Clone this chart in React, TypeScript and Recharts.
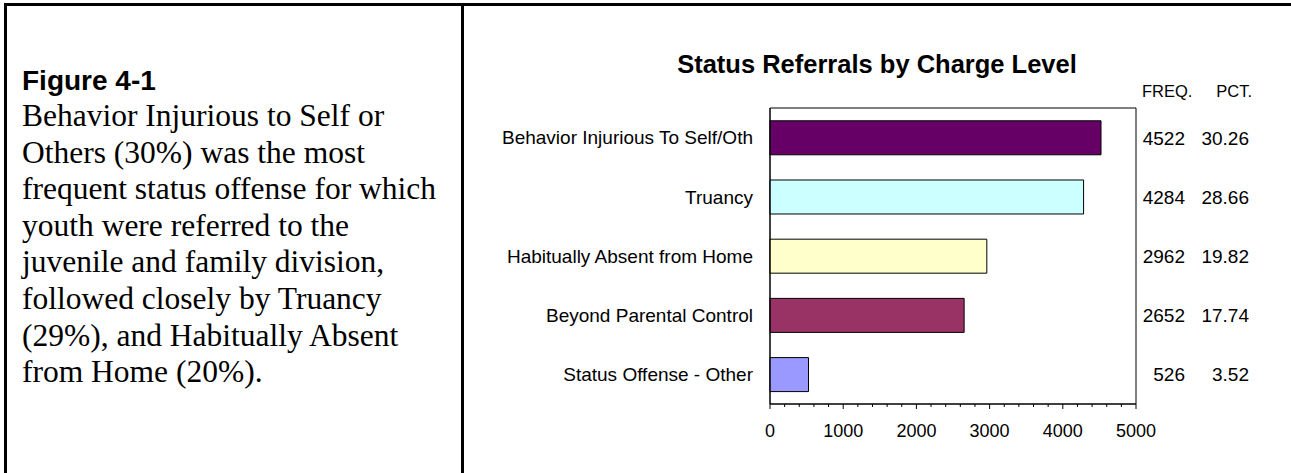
import { BarChart, Bar, XAxis, YAxis, Cell, LabelList, ReferenceArea } from 'recharts';

const CATEGORIES = [
  'Behavior Injurious To Self/Oth',
  'Truancy',
  'Habitually Absent from Home',
  'Beyond Parental Control',
  'Status Offense - Other',
];
const FREQ = [4522, 4284, 2962, 2652, 526];
const PCT = [30.26, 28.66, 19.82, 17.74, 3.52];
const BAR_COLORS = ['#660066', '#CCFFFF', '#FFFFCC', '#993366', '#9999FF'];
const X_TICKS = [
  0, 200, 400, 600, 800, 1000, 1200, 1400, 1600, 1800, 2000, 2200, 2400,
  2600, 2800, 3000, 3200, 3400, 3600, 3800, 4000, 4200, 4400, 4600, 4800, 5000,
];
const MAJOR_TICKS = [0, 1000, 2000, 3000, 4000, 5000];

const SUMMARY_LINES = [
  'Behavior Injurious to Self or',
  'Others (30%) was the most',
  'frequent status offense for which',
  'youth were referred to the',
  'juvenile and family division,',
  'followed closely by Truancy',
  '(29%), and Habitually Absent',
  'from Home (20%).',
];

const SANS = 'Liberation Sans, Arial, sans-serif';
const SERIF = 'Liberation Serif, Times New Roman, serif';

const data = CATEGORIES.map((name, i) => ({ name, freq: FREQ[i], pct: PCT[i] }));

// chart sits at x=462 on the page, so label columns are in svg coords
const FREQ_RIGHT = 723;
const PCT_RIGHT = 787;

function XTick(props: any) {
  const { x, y, payload } = props;
  const major = MAJOR_TICKS.includes(payload.value);
  return (
    <g>
      <line x1={x} x2={x} y1={y} y2={y + (major ? 5 : 3)} stroke="#000" />
      {major && (
        <text x={x} y={y + 33} textAnchor="middle" fontSize={18} fontFamily={SANS} fill="#000">
          {payload.value}
        </text>
      )}
    </g>
  );
}

function ValueLabel(right: number, fmt: (v: number) => string) {
  return (props: any) => {
    const cy = Number(props.y) + Number(props.height) / 2;
    return (
      <text x={right} y={cy} dy="0.355em" textAnchor="end" fontSize={19} fontFamily={SANS} fill="#000">
        {fmt(Number(props.value))}
      </text>
    );
  };
}

export default function App() {
  return (
    <div style={{ position: 'absolute', left: 0, top: 0, width: 1291, height: 473, background: '#fff' }}>
      <svg width={1291} height={473} style={{ position: 'absolute', left: 0, top: 0 }}>
        <rect x={4} y={3} width={1287} height={3} fill="#000" />
        <rect x={4} y={3} width={3} height={470} fill="#000" />
        <rect x={461} y={3} width={3} height={470} fill="#000" />
        <text x={22} y={90} fontSize={28} fontWeight="bold" fontFamily={SANS} fill="#000">Figure 4-1</text>
        {SUMMARY_LINES.map((line, i) => (
          <text key={i} x={22} y={126 + i * 36.6} fontSize={31.5} fontFamily={SERIF} fill="#000">{line}</text>
        ))}
        <text x={877} y={73} textAnchor="middle" fontSize={25.5} fontWeight="bold" fontFamily={SANS} fill="#000">
          Status Referrals by Charge Level
        </text>
        <text x={1142} y={97} fontSize={16.5} fontFamily={SANS} fill="#000">FREQ.</text>
        <text x={1252} y={97} textAnchor="end" fontSize={16.5} fontFamily={SANS} fill="#000">PCT.</text>
      </svg>
      <div style={{ position: 'absolute', left: 462, top: 0 }}>
        <BarChart
          width={829}
          height={473}
          data={data}
          layout="vertical"
          margin={{ top: 108, right: 155, bottom: 29, left: 0 }}
          barCategoryGap="21.6%"
        >
          <XAxis
            type="number"
            domain={[0, 5000]}
            ticks={X_TICKS}
            interval={0}
            height={40}
            tickSize={0}
            tickMargin={0}
            tickLine={false}
            axisLine={{ stroke: '#000' }}
            tick={<XTick />}
          />
          <YAxis
            type="category"
            dataKey="name"
            width={308}
            tickLine={false}
            tickSize={0}
            tickMargin={17}
            axisLine={{ stroke: '#000' }}
            tick={{ fontSize: 19, fill: '#000', fontFamily: SANS }}
          />
          <ReferenceArea x1={0} x2={5000} fill="none" stroke="#000" />
          <Bar dataKey="freq" stroke="#000" strokeWidth={1} isAnimationActive={false}>
            {data.map((d, i) => (
              <Cell key={d.name} fill={BAR_COLORS[i]} />
            ))}
            <LabelList dataKey="freq" content={ValueLabel(FREQ_RIGHT, (v) => String(v))} />
            <LabelList dataKey="pct" content={ValueLabel(PCT_RIGHT, (v) => v.toFixed(2))} />
          </Bar>
        </BarChart>
      </div>
    </div>
  );
}
